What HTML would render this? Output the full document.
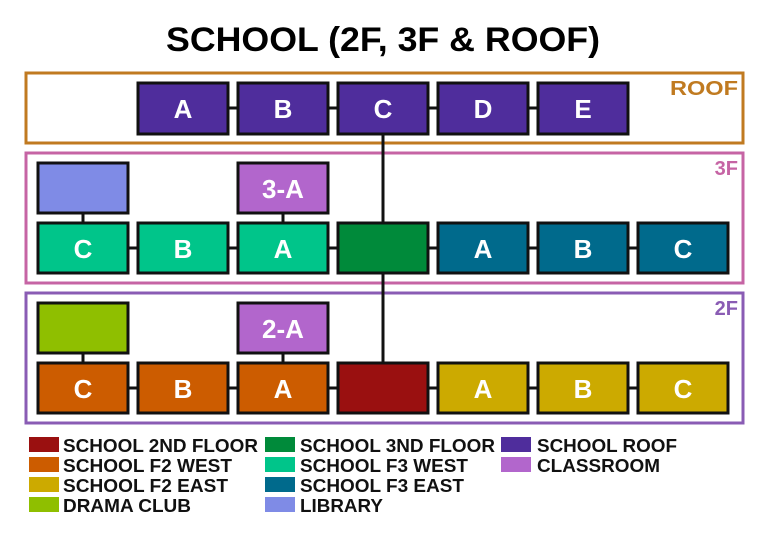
<!DOCTYPE html>
<html><head><style>body{margin:0;background:#fff}svg{display:block}</style></head><body>
<svg width="768" height="536" viewBox="0 0 768 536" xmlns="http://www.w3.org/2000/svg" font-family="Liberation Sans, sans-serif" font-weight="bold">
<rect width="768" height="536" fill="#fff"/>
<text x="166" y="51" font-size="34" fill="#000" textLength="434" lengthAdjust="spacingAndGlyphs">SCHOOL (2F, 3F &amp; ROOF)</text>
<rect x="26" y="73" width="717" height="70" fill="none" stroke="#c07a20" stroke-width="3"/>
<rect x="26" y="153" width="717" height="130" fill="none" stroke="#c664a4" stroke-width="3"/>
<rect x="26" y="293" width="717" height="130" fill="none" stroke="#8a5cb4" stroke-width="3"/>
<text x="738" y="95" text-anchor="end" font-size="20" fill="#c07a20" textLength="68" lengthAdjust="spacingAndGlyphs">ROOF</text>
<text x="738" y="175" text-anchor="end" font-size="20" fill="#c664a4">3F</text>
<text x="738" y="315" text-anchor="end" font-size="20" fill="#8a5cb4">2F</text>
<g stroke="#111" stroke-width="3">
<line x1="138" y1="108" x2="538" y2="108"/>
<line x1="383" y1="134" x2="383" y2="363"/>
<line x1="128" y1="248" x2="638" y2="248"/>
<line x1="128" y1="388" x2="638" y2="388"/>
<line x1="83" y1="213" x2="83" y2="223"/>
<line x1="283" y1="213" x2="283" y2="223"/>
<line x1="83" y1="353" x2="83" y2="363"/>
<line x1="283" y1="353" x2="283" y2="363"/>
</g>
<g stroke="#111" stroke-width="3">
<rect x="138" y="83" width="90" height="51" fill="#4f2d9c"/>
<rect x="238" y="83" width="90" height="51" fill="#4f2d9c"/>
<rect x="338" y="83" width="90" height="51" fill="#4f2d9c"/>
<rect x="438" y="83" width="90" height="51" fill="#4f2d9c"/>
<rect x="538" y="83" width="90" height="51" fill="#4f2d9c"/>
<rect x="38" y="163" width="90" height="50" fill="#7f8be6"/>
<rect x="238" y="163" width="90" height="50" fill="#b266cc"/>
<rect x="38" y="223" width="90" height="50" fill="#00c58a"/>
<rect x="138" y="223" width="90" height="50" fill="#00c58a"/>
<rect x="238" y="223" width="90" height="50" fill="#00c58a"/>
<rect x="338" y="223" width="90" height="50" fill="#008a3a"/>
<rect x="438" y="223" width="90" height="50" fill="#006a8c"/>
<rect x="538" y="223" width="90" height="50" fill="#006a8c"/>
<rect x="638" y="223" width="90" height="50" fill="#006a8c"/>
<rect x="38" y="303" width="90" height="50" fill="#8fbf00"/>
<rect x="238" y="303" width="90" height="50" fill="#b266cc"/>
<rect x="38" y="363" width="90" height="50" fill="#cc5c00"/>
<rect x="138" y="363" width="90" height="50" fill="#cc5c00"/>
<rect x="238" y="363" width="90" height="50" fill="#cc5c00"/>
<rect x="338" y="363" width="90" height="50" fill="#9a1010"/>
<rect x="438" y="363" width="90" height="50" fill="#ccaa00"/>
<rect x="538" y="363" width="90" height="50" fill="#ccaa00"/>
<rect x="638" y="363" width="90" height="50" fill="#ccaa00"/>
</g>
<g fill="#fff" font-size="26" text-anchor="middle">
<text x="183" y="118">A</text><text x="283" y="118">B</text><text x="383" y="118">C</text><text x="483" y="118">D</text><text x="583" y="118">E</text>
<text x="283" y="198">3-A</text>
<text x="83" y="258">C</text><text x="183" y="258">B</text><text x="283" y="258">A</text>
<text x="483" y="258">A</text><text x="583" y="258">B</text><text x="683" y="258">C</text>
<text x="283" y="338">2-A</text>
<text x="83" y="398">C</text><text x="183" y="398">B</text><text x="283" y="398">A</text>
<text x="483" y="398">A</text><text x="583" y="398">B</text><text x="683" y="398">C</text>
</g>
<g font-size="18" fill="#111" lengthAdjust="spacingAndGlyphs">
<rect x="29" y="437" width="30" height="15" fill="#9a1010"/><text x="63" y="452" textLength="195" lengthAdjust="spacingAndGlyphs">SCHOOL 2ND FLOOR</text>
<rect x="29" y="457" width="30" height="15" fill="#cc5c00"/><text x="63" y="472" textLength="169" lengthAdjust="spacingAndGlyphs">SCHOOL F2 WEST</text>
<rect x="29" y="477" width="30" height="15" fill="#ccaa00"/><text x="63" y="492" textLength="165" lengthAdjust="spacingAndGlyphs">SCHOOL F2 EAST</text>
<rect x="29" y="497" width="30" height="15" fill="#8fbf00"/><text x="63" y="512" textLength="128" lengthAdjust="spacingAndGlyphs">DRAMA CLUB</text>
<rect x="265" y="437" width="30" height="15" fill="#008a3a"/><text x="300" y="452" textLength="195" lengthAdjust="spacingAndGlyphs">SCHOOL 3ND FLOOR</text>
<rect x="265" y="457" width="30" height="15" fill="#00c58a"/><text x="300" y="472" textLength="168" lengthAdjust="spacingAndGlyphs">SCHOOL F3 WEST</text>
<rect x="265" y="477" width="30" height="15" fill="#006a8c"/><text x="300" y="492" textLength="164" lengthAdjust="spacingAndGlyphs">SCHOOL F3 EAST</text>
<rect x="265" y="497" width="30" height="15" fill="#7f8be6"/><text x="300" y="512" textLength="83" lengthAdjust="spacingAndGlyphs">LIBRARY</text>
<rect x="501" y="437" width="30" height="15" fill="#4f2d9c"/><text x="537" y="452" textLength="140" lengthAdjust="spacingAndGlyphs">SCHOOL ROOF</text>
<rect x="501" y="457" width="30" height="15" fill="#b266cc"/><text x="537" y="472" textLength="123" lengthAdjust="spacingAndGlyphs">CLASSROOM</text>
</g>
</svg>
</body></html>
